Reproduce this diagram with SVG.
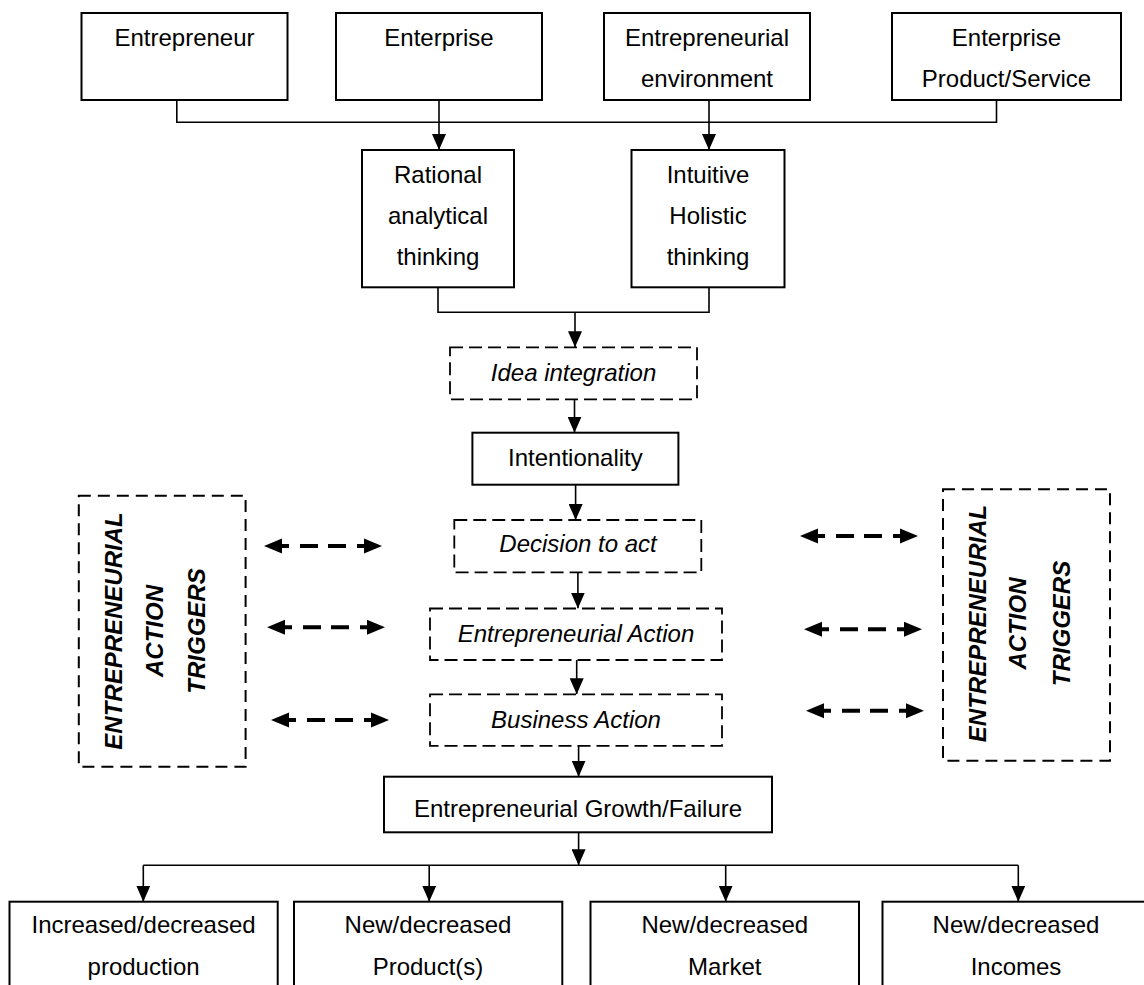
<svg xmlns="http://www.w3.org/2000/svg" xmlns:xlink="http://www.w3.org/1999/xlink" width="1144" height="985" viewBox="0 0 1144 985">
  <style>
    .box { fill: #ffffff; stroke: #000000; stroke-width: 2; }
    .dash { fill: #ffffff; stroke: #000000; stroke-width: 1.8; stroke-dasharray: 13 6; }
    .tbox { fill: none; stroke: #000000; stroke-width: 2; stroke-dasharray: 12 7; }
    .wire { fill: none; stroke: #000000; stroke-width: 1.6; }
    .arr { fill: none; stroke: #000000; stroke-width: 1.6; marker-end: url(#head); }
    .t { font-family: "Liberation Sans", Arial, sans-serif; font-size: 24px; fill: #000000; text-anchor: middle; }
    .ti { font-style: italic; }
    .tv { font-family: "Liberation Sans", Arial, sans-serif; font-size: 24px; font-weight: bold; font-style: italic; fill: #000000; text-anchor: middle; }
    .dl { fill: none; stroke: #000000; stroke-width: 4; stroke-dasharray: 8 11 18 10 18 11 8 200; }
  </style>
  <defs>
    <marker id="head" viewBox="0 0 16 14" refX="16" refY="7" markerWidth="16" markerHeight="14" markerUnits="userSpaceOnUse" orient="auto">
      <path d="M0,0 L16,7 L0,14 z" fill="#000000"/>
    </marker>
    <!-- two-headed dashed trigger link, 118 px long, drawn along y = 0 -->
    <g id="dbl">
      <line class="dl" x1="17" y1="0" x2="101" y2="0"/>
      <path d="M0,0 L18,-7.5 L18,7.5 z" fill="#000000"/>
      <path d="M118,0 L100,-7.5 L100,7.5 z" fill="#000000"/>
    </g>
  </defs>

  <!-- connectors -->
  <g id="connectors">
    <path class="wire" d="M176.8 100 V122.3 H996.5 V100"/>
    <path class="arr" d="M439 100 V150"/>
    <path class="arr" d="M709 100 V150"/>
    <path class="wire" d="M438 287.3 V312.3 H709 V287.3"/>
    <path class="arr" d="M575 312.3 V347.3"/>
    <path class="arr" d="M574.5 399.3 V432.7"/>
    <path class="arr" d="M575.6 484.7 V520"/>
    <path class="arr" d="M577.9 572.3 V608.5"/>
    <path class="arr" d="M576.7 660 V694.3"/>
    <path class="arr" d="M578.6 745.8 V776.7"/>
    <path class="arr" d="M578.6 832.3 V865.3"/>
    <path class="wire" d="M143.3 865.3 H1018.3"/>
    <path class="arr" d="M143.3 865.3 V901.7"/>
    <path class="arr" d="M429.2 865.3 V901.7"/>
    <path class="arr" d="M725.7 865.3 V901.7"/>
    <path class="arr" d="M1018.3 865.3 V901.7"/>
    <!-- trigger links -->
    <use xlink:href="#dbl" transform="translate(264,546)"/>
    <use xlink:href="#dbl" transform="translate(267,627.3)"/>
    <use xlink:href="#dbl" transform="translate(271,720)"/>
    <use xlink:href="#dbl" transform="translate(800,536)"/>
    <use xlink:href="#dbl" transform="translate(804,629.3)"/>
    <use xlink:href="#dbl" transform="translate(806,710.7)"/>
  </g>

  <!-- inputs -->
  <g id="entrepreneur">
    <rect class="box" x="81.5" y="13" width="206" height="87"/>
    <text class="t" x="184.5" y="46">Entrepreneur</text>
  </g>
  <g id="enterprise">
    <rect class="box" x="336" y="13" width="206" height="87"/>
    <text class="t" x="439" y="46">Enterprise</text>
  </g>
  <g id="environment">
    <rect class="box" x="604" y="13" width="206" height="87"/>
    <text class="t" x="707" y="46">Entrepreneurial</text>
    <text class="t" x="707" y="87">environment</text>
  </g>
  <g id="product-service">
    <rect class="box" x="892" y="13" width="229" height="87"/>
    <text class="t" x="1006.5" y="46">Enterprise</text>
    <text class="t" x="1006.5" y="87">Product/Service</text>
  </g>

  <!-- thinking modes -->
  <g id="rational">
    <rect class="box" x="362" y="150" width="152" height="137.3"/>
    <text class="t" x="438" y="182.7">Rational</text>
    <text class="t" x="438" y="224">analytical</text>
    <text class="t" x="438" y="265">thinking</text>
  </g>
  <g id="intuitive">
    <rect class="box" x="631.5" y="150" width="153" height="137.3"/>
    <text class="t" x="708" y="182.7">Intuitive</text>
    <text class="t" x="708" y="224">Holistic</text>
    <text class="t" x="708" y="265">thinking</text>
  </g>

  <!-- main chain -->
  <g id="idea-integration">
    <rect class="dash" x="450" y="347.3" width="247" height="52"/>
    <text class="t ti" x="573.5" y="380.7">Idea integration</text>
  </g>
  <g id="intentionality">
    <rect class="box" x="472.4" y="432.7" width="206" height="52"/>
    <text class="t" x="575.4" y="465.7">Intentionality</text>
  </g>
  <g id="decision">
    <rect class="dash" x="454.3" y="520" width="247" height="52.3"/>
    <text class="t ti" x="578" y="552.3">Decision to act</text>
  </g>
  <g id="entrepreneurial-action">
    <rect class="dash" x="430" y="608.5" width="292" height="51.5"/>
    <text class="t ti" x="576" y="641.5">Entrepreneurial Action</text>
  </g>
  <g id="business-action">
    <rect class="dash" x="430" y="694.3" width="292" height="51.5"/>
    <text class="t ti" x="576" y="727.5">Business Action</text>
  </g>
  <g id="growth-failure">
    <rect class="box" x="384" y="776.7" width="388" height="55.6"/>
    <text class="t" x="578" y="817">Entrepreneurial Growth/Failure</text>
  </g>

  <!-- trigger panels -->
  <g id="triggers-left">
    <rect class="tbox" x="78.8" y="495.7" width="166.8" height="271"/>
    <text class="tv" transform="translate(122,631) rotate(-90)">ENTREPRENEURIAL</text>
    <text class="tv" transform="translate(163,631) rotate(-90)">ACTION</text>
    <text class="tv" transform="translate(205,631) rotate(-90)">TRIGGERS</text>
  </g>
  <g id="triggers-right">
    <rect class="tbox" x="943" y="489.3" width="167" height="271.4"/>
    <text class="tv" transform="translate(986.4,623.5) rotate(-90)">ENTREPRENEURIAL</text>
    <text class="tv" transform="translate(1026,623.5) rotate(-90)">ACTION</text>
    <text class="tv" transform="translate(1069.5,623.5) rotate(-90)">TRIGGERS</text>
  </g>

  <!-- outcomes -->
  <g id="production">
    <rect class="box" x="9.5" y="901.7" width="268.2" height="110"/>
    <text class="t" x="143.6" y="933">Increased/decreased</text>
    <text class="t" x="143.6" y="975">production</text>
  </g>
  <g id="products">
    <rect class="box" x="294" y="901.7" width="268.3" height="110"/>
    <text class="t" x="428" y="933">New/decreased</text>
    <text class="t" x="428" y="975">Product(s)</text>
  </g>
  <g id="market">
    <rect class="box" x="590.5" y="901.7" width="268.5" height="110"/>
    <text class="t" x="724.8" y="933">New/decreased</text>
    <text class="t" x="724.8" y="975">Market</text>
  </g>
  <g id="incomes">
    <rect class="box" x="882.5" y="901.7" width="268" height="110"/>
    <text class="t" x="1016" y="933">New/decreased</text>
    <text class="t" x="1016" y="975">Incomes</text>
  </g>
</svg>
